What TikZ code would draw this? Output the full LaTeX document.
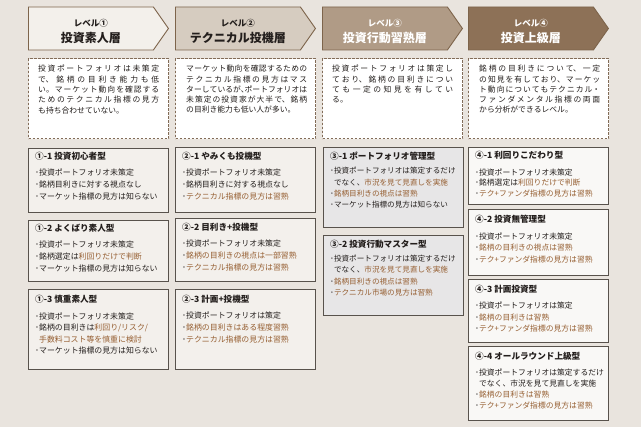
\documentclass[tikz,border=0pt]{standalone}
\usepackage{fontspec}
\setmainfont{Noto Sans CJK JP}
\usepackage{tikz}
\usetikzlibrary{positioning,shapes.symbols}
\definecolor{pagebg}{RGB}{233,228,222}
\definecolor{lvedge}{RGB}{125,100,75}
\definecolor{lvone}{RGB}{243,240,235}
\definecolor{lvtwo}{RGB}{214,204,192}
\definecolor{lvthree}{RGB}{176,155,134}
\definecolor{lvfour}{RGB}{141,113,87}
\definecolor{dashbrown}{RGB}{130,108,88}
\definecolor{typeedge}{RGB}{88,82,76}
\definecolor{typefill}{RGB}{243,240,236}
\definecolor{typegray}{RGB}{231,230,231}
\definecolor{typewhite}{RGB}{249,248,246}
\definecolor{textdark}{RGB}{35,30,28}
\definecolor{tbrown}{RGB}{150,95,50}
\XeTeXlinebreaklocale "ja"
\XeTeXlinebreakskip=0pt plus 3pt
\parindent=0pt
\newcommand{\hlb}[1]{\textcolor{tbrown}{#1}}
\newcommand{\typetitle}[1]{{\bfseries\fontsize{8.6}{12}\selectfont #1}}

\tikzset{
  lvhead/.style={shape=signal, signal to=east, signal pointer angle=110, draw=lvedge, line width=0.9pt,
    minimum width=140pt, minimum height=43pt, align=center, inner sep=0pt, anchor=west,
    font=\fontsize{12}{15.5}\selectfont\bfseries},
  descbox/.style={draw=dashbrown, line width=1.1pt, dash pattern=on 2.6pt off 1.4pt, fill=white,
    anchor=north west, minimum width=140pt, minimum height=80pt, inner sep=0pt},
  desctext/.style={anchor=north west, inner sep=0pt, text width=121pt, align=justify,
    font=\fontsize{7.8}{10.3}\selectfont, text=textdark},
  typebox/.style={draw=typeedge, line width=0.9pt, anchor=north west, minimum width=140pt, inner sep=0pt},
  typetext/.style={anchor=north west, inner sep=0pt, align=left, font=\fontsize{7.9}{12}\selectfont, text=textdark}
}

\begin{document}
\begin{tikzpicture}[x=1pt,y=-1pt]
  \fill[pagebg] (0,0) rectangle (641,427);
  \useasboundingbox (0,0) rectangle (641,427);

  %--- Level headers ---
  \node[lvhead, fill=lvone, text=textdark] (lv1) at (28,28.5) {\rule{0pt}{13.5pt}{\fontsize{8.5}{10}\selectfont レベル①}\\投資素人層};
  \node[lvhead, fill=lvtwo, text=textdark] (lv2) at (175,28.5) {\rule{0pt}{13.5pt}{\fontsize{8.5}{10}\selectfont レベル②}\\テクニカル投機層};
  \node[lvhead, fill=lvthree, text=white] (lv3) at (322,28.5) {\rule{0pt}{13.5pt}{\fontsize{8.5}{10}\selectfont レベル③}\\投資行動習熟層};
  \node[lvhead, fill=lvfour, text=white] (lv4) at (468,28.5) {\rule{0pt}{13.5pt}{\fontsize{8.5}{10}\selectfont レベル④}\\投資上級層};

  %--- Descriptions ---
  \node[descbox] (d1) at (28,58) {};
  \node[desctext] (d1t) at ([xshift=10pt,yshift=-7pt]d1.north west) {投資ポートフォリオは未策定\linebreak で、銘柄の目利き能力も低\linebreak い。マーケット動向を確認する\linebreak ためのテクニカル指標の見方\linebreak も持ち合わせていない。};
  \node[descbox] (d2) at (175,58) {};
  \node[desctext] (d2t) at ([xshift=11pt,yshift=-7pt]d2.north west) {マーケット動向を確認するための\linebreak テクニカル指標の見方はマス\linebreak ターしているが、\kern-4pt ポートフォリオは\linebreak 未策定の投資家が大半で、銘柄\linebreak の目利き能力も低い人が多い。};
  \node[descbox] (d3) at (322,58) {};
  \node[desctext] (d3t) at ([xshift=10pt,yshift=-7pt]d3.north west) {投資ポートフォリオは策定し\linebreak ており、銘柄の目利きについ\linebreak ても一定の知見を有してい\linebreak る。};
  \node[descbox] (d4) at (468,58) {};
  \node[desctext] (d4t) at ([xshift=11pt,yshift=-7pt]d4.north west) {銘柄の目利きについて、一定\linebreak の知見を有しており、マーケッ\linebreak ト動向についてもテクニカル・\linebreak ファンダメンタル指標の両面\linebreak から分析ができるレベル。};

  %--- Level 1 types ---
  \node[typebox, fill=typefill, minimum height=64pt] (t11) at (28,148) {};
  \node[typetext] at ([xshift=7pt,yshift=-4pt]t11.north west) {\typetitle{①-1 投資初心者型}\\[4pt]･投資ポートフォリオ未策定\\･銘柄目利きに対する視点なし\\･マーケット指標の見方は知らない};
  \node[typebox, fill=typefill, minimum height=61pt] (t12) at (28,220) {};
  \node[typetext] at ([xshift=7pt,yshift=-4pt]t12.north west) {\typetitle{①-2 よくばり素人型}\\[4pt]･投資ポートフォリオ未策定\\･銘柄選定は\hlb{利回りだけで判断}\\･マーケット指標の見方は知らない};
  \node[typebox, fill=typefill, minimum height=80pt] (t13) at (28,289) {};
  \node[typetext, font=\fontsize{7.9}{11.5}\selectfont] at ([xshift=7pt,yshift=-6pt]t13.north west) {\typetitle{①-3 慎重素人型}\\[5pt]･投資ポートフォリオ未策定\\･銘柄の目利きは\hlb{利回り/リスク/}\\\hspace*{0.5em}\hlb{手数料コスト等を慎重に検討}\\･マーケット指標の見方は知らない};

  %--- Level 2 types ---
  \node[typebox, fill=typefill, minimum height=65pt] (t21) at (175,147) {};
  \node[typetext] at ([xshift=7pt,yshift=-5pt]t21.north west) {\typetitle{②-1 やみくも投機型}\\[4pt]･投資ポートフォリオ未策定\\･銘柄目利きに対する視点なし\\･\hlb{テクニカル指標の見方は習熟}};
  \node[typebox, fill=typefill, minimum height=63pt] (t22) at (175,218) {};
  \node[typetext] at ([xshift=7pt,yshift=-5pt]t22.north west) {\typetitle{②-2 目利き+投機型}\\[4pt]･投資ポートフォリオ未策定\\･\hlb{銘柄の目利きの視点は一部習熟}\\･\hlb{テクニカル指標の見方は習熟}};
  \node[typebox, fill=typefill, minimum height=80pt] (t23) at (175,289) {};
  \node[typetext] at ([xshift=7pt,yshift=-6pt]t23.north west) {\typetitle{②-3 計画+投機型}\\[4pt]･投資ポートフォリオは策定\\･\hlb{銘柄の目利きはある程度習熟}\\･\hlb{テクニカル指標の見方は習熟}};

  %--- Level 3 types ---
  \node[typebox, fill=typegray, minimum height=80pt] (t31) at (323,147) {};
  \node[typetext, font=\fontsize{7.6}{11.2}\selectfont] at ([xshift=7pt,yshift=-5pt]t31.north west) {\typetitle{③-1 ポートフォリオ管理型}\\[3pt]･投資ポートフォリオは策定するだけ\\\hspace*{0.5em}でなく、\hlb{市況を見て見直しを実施}\\･\hlb{銘柄目利きの視点は習熟}\\･マーケット指標の見方は知らない};
  \node[typebox, fill=typegray, minimum height=80pt] (t32) at (323,235) {};
  \node[typetext, font=\fontsize{7.6}{11.2}\selectfont] at ([xshift=7pt,yshift=-5pt]t32.north west) {\typetitle{③-2 投資行動マスター型}\\[3pt]･投資ポートフォリオは策定するだけ\\\hspace*{0.5em}でなく、\hlb{市況を見て見直しを実施}\\･\hlb{銘柄目利きの視点は習熟}\\･\hlb{テクニカル市場の見方は習熟}};

  %--- Level 4 types ---
  \node[typebox, fill=typewhite, minimum height=57pt] (t41) at (468,147) {};
  \node[typetext, font=\fontsize{7.8}{10.5}\selectfont] at ([xshift=7pt,yshift=-4pt]t41.north west) {\typetitle{④-1 利回りこだわり型}\\[6pt]･投資ポートフォリオ未策定\\･銘柄選定は\hlb{利回りだけで判断}\\･\hlb{テク+ファンダ指標の見方は習熟}};
  \node[typebox, fill=typewhite, minimum height=66pt] (t42) at (468,209) {};
  \node[typetext, font=\fontsize{7.8}{11.5}\selectfont] at ([xshift=7pt,yshift=-6pt]t42.north west) {\typetitle{④-2 投資無管理型}\\[5pt]･投資ポートフォリオ未策定\\･\hlb{銘柄の目利きの視点は習熟}\\･\hlb{テク+ファンダ指標の見方は習熟}};
  \node[typebox, fill=typewhite, minimum height=63pt] (t43) at (468,279) {};
  \node[typetext, font=\fontsize{7.8}{11.3}\selectfont] at ([xshift=7pt,yshift=-6pt]t43.north west) {\typetitle{④-3 計画投資型}\\[5pt]･投資ポートフォリオは策定\\･\hlb{銘柄の目利きは習熟}\\･\hlb{テク+ファンダ指標の見方は習熟}};
  \node[typebox, fill=typewhite, minimum height=74pt] (t44) at (468,346) {};
  \node[typetext, font=\fontsize{7.8}{11}\selectfont] at ([xshift=7pt,yshift=-6pt]t44.north west) {\typetitle{④-4 オールラウンド上級型}\\[5pt]･投資ポートフォリオは策定するだけ\\\hspace*{0.5em}でなく、市況を見て見直しを実施\\･\hlb{銘柄の目利きは習熟}\\･\hlb{テク+ファンダ指標の見方は習熟}};
\end{tikzpicture}
\end{document}
